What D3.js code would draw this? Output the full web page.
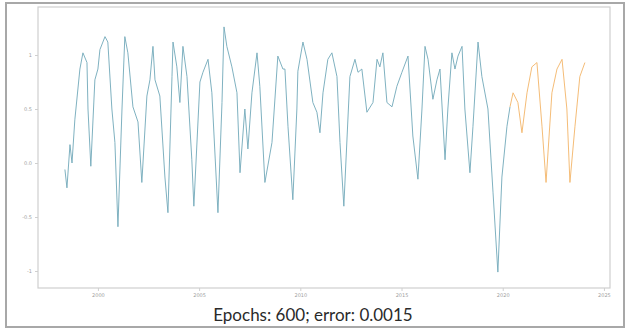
<!DOCTYPE html>
<html>
<head>
<meta charset="utf-8">
<script src="https://cdn.jsdelivr.net/npm/d3@7"></script>
<style>
  body { margin: 0; background: #fff; }
  svg { display: block; }
</style>
</head>
<body>
<div id="chart"></div>
<script>
// training series (blue): time and value
const trainT = [1998.37, 1998.47, 1998.62, 1998.72, 1998.86, 1999.11, 1999.26, 1999.46, 1999.51, 1999.65,
  1999.85, 2000.00, 2000.10, 2000.35, 2000.49, 2000.69, 2000.84, 2000.99, 2001.19, 2001.33,
  2001.48, 2001.73, 2001.98, 2002.17, 2002.42, 2002.57, 2002.72, 2002.82, 2003.06, 2003.31,
  2003.46, 2003.66, 2003.71, 2003.90, 2004.05, 2004.20, 2004.40, 2004.64, 2004.74, 2005.04,
  2005.19, 2005.44, 2005.63, 2005.93, 2006.13, 2006.23, 2006.37, 2006.62, 2006.87, 2007.02,
  2007.26, 2007.41, 2007.61, 2007.86, 2008.00, 2008.25, 2008.60, 2008.89, 2009.14, 2009.24,
  2009.39, 2009.63, 2009.83, 2009.88, 2010.13, 2010.33, 2010.62, 2010.82, 2010.97, 2011.12,
  2011.36, 2011.56, 2011.81, 2011.96, 2012.15, 2012.45, 2012.70, 2012.85, 2013.04, 2013.29,
  2013.59, 2013.79, 2013.93, 2014.08, 2014.28, 2014.53, 2014.77, 2015.02, 2015.32, 2015.56,
  2015.81, 2016.01, 2016.16, 2016.31, 2016.55, 2016.75, 2016.90, 2017.15, 2017.29, 2017.49,
  2017.64, 2017.79, 2017.99, 2018.13, 2018.38, 2018.53, 2018.78, 2018.97, 2019.27, 2019.52,
  2019.76, 2019.96, 2020.21, 2020.36];
const trainV = [-0.06, -0.23, 0.17, 0.00, 0.40, 0.87, 1.02, 0.93, 0.50, -0.03,
  0.77, 0.87, 1.05, 1.17, 1.12, 0.50, 0.19, -0.59, 0.50, 1.17,
  1.02, 0.52, 0.38, -0.18, 0.62, 0.77, 1.08, 0.77, 0.62, -0.13,
  -0.46, 0.80, 1.12, 0.89, 0.56, 1.08, 0.80, 0.03, -0.40, 0.75,
  0.84, 0.96, 0.65, -0.46, 0.56, 1.26, 1.08, 0.89, 0.65, -0.09,
  0.50, 0.13, 0.65, 1.02, 0.71, -0.18, 0.19, 0.99, 0.87, 0.87,
  0.34, -0.34, 0.50, 0.85, 1.12, 0.96, 0.56, 0.47, 0.28, 0.65,
  0.96, 1.02, 0.80, 0.19, -0.40, 0.80, 0.96, 0.84, 0.87, 0.47,
  0.56, 0.96, 0.89, 1.02, 0.56, 0.52, 0.71, 0.84, 0.99, 0.25,
  -0.15, 0.50, 1.08, 0.96, 0.59, 0.77, 0.87, 0.03, 0.50, 1.02,
  0.87, 0.99, 1.08, 0.50, -0.09, 0.34, 1.12, 0.80, 0.50, -0.27,
  -1.01, -0.13, 0.34, 0.52];

// prediction series (orange)
const predT = [2020.36, 2020.51, 2020.75, 2020.95, 2021.20, 2021.44, 2021.69, 2021.94, 2022.14, 2022.43,
  2022.68, 2022.93, 2023.17, 2023.32, 2023.57, 2023.81, 2024.06];
const predV = [0.52, 0.65, 0.56, 0.28, 0.65, 0.89, 0.93, 0.34, -0.18, 0.65,
  0.87, 0.96, 0.50, -0.18, 0.34, 0.80, 0.93];

const xTicks = [2000, 2005, 2010, 2015, 2020, 2025];
const yTicks = [1.0, 0.5, 0.0, -0.5, -1.0];
const yTickLabels = ['1', '0.5', '0.0', '-0.5', '-1'];
const caption = 'Epochs: 600; error: 0.0015';

const W = 629, H = 330;
const plot = { left: 38, right: 610, top: 7, bottom: 288 };

const svg = d3.select('#chart').append('svg')
  .attr('width', W)
  .attr('height', H);

// outer frame of the picture
svg.append('rect')
  .attr('x', 6).attr('y', 3)
  .attr('width', 618).attr('height', 324)
  .attr('fill', '#fff')
  .attr('stroke', '#a8a8a8')
  .attr('stroke-width', 2);

const x = d3.scaleLinear()
  .domain([1997.04, 2025.3])
  .range([plot.left, plot.right]);

const y = d3.scaleLinear()
  .domain([-1, 1])
  .range([271, 55]);

// axes box
svg.append('rect')
  .attr('x', plot.left).attr('y', plot.top)
  .attr('width', plot.right - plot.left)
  .attr('height', plot.bottom - plot.top)
  .attr('fill', 'none')
  .attr('stroke', '#cfcfcf')
  .attr('stroke-width', 1.2);

const xAxis = svg.append('g')
  .attr('transform', `translate(0,${plot.bottom})`)
  .call(d3.axisBottom(x).tickValues(xTicks).tickFormat(d3.format('d')).tickSize(3).tickPadding(2));

const yAxis = svg.append('g')
  .attr('transform', `translate(${plot.left},0)`)
  .call(d3.axisLeft(y).tickValues(yTicks).tickFormat((d, i) => yTickLabels[i]).tickSize(3).tickPadding(3));

[xAxis, yAxis].forEach(a => {
  a.select('.domain').remove();
  a.selectAll('line').attr('stroke', '#cfcfcf');
  a.selectAll('text')
    .attr('fill', '#a0a0a0')
    .style('font-family', 'DejaVu Sans')
    .style('font-size', '5px');
});

const line = d3.line()
  .x(d => x(d[0]))
  .y(d => y(d[1]));

svg.append('path')
  .datum(d3.zip(trainT, trainV))
  .attr('fill', 'none')
  .attr('stroke', '#78adbd')
  .attr('stroke-width', 0.95)
  .attr('stroke-linejoin', 'round')
  .attr('d', line);

svg.append('path')
  .datum(d3.zip(predT, predV))
  .attr('fill', 'none')
  .attr('stroke', '#f3b870')
  .attr('stroke-width', 0.95)
  .attr('stroke-linejoin', 'round')
  .attr('d', line);

svg.append('text')
  .attr('x', 313)
  .attr('y', 321)
  .attr('text-anchor', 'middle')
  .attr('fill', '#2a2a2a')
  .style('font-family', 'Lato')
  .style('font-size', '17px')
  .text(caption);
</script>
</body>
</html>
